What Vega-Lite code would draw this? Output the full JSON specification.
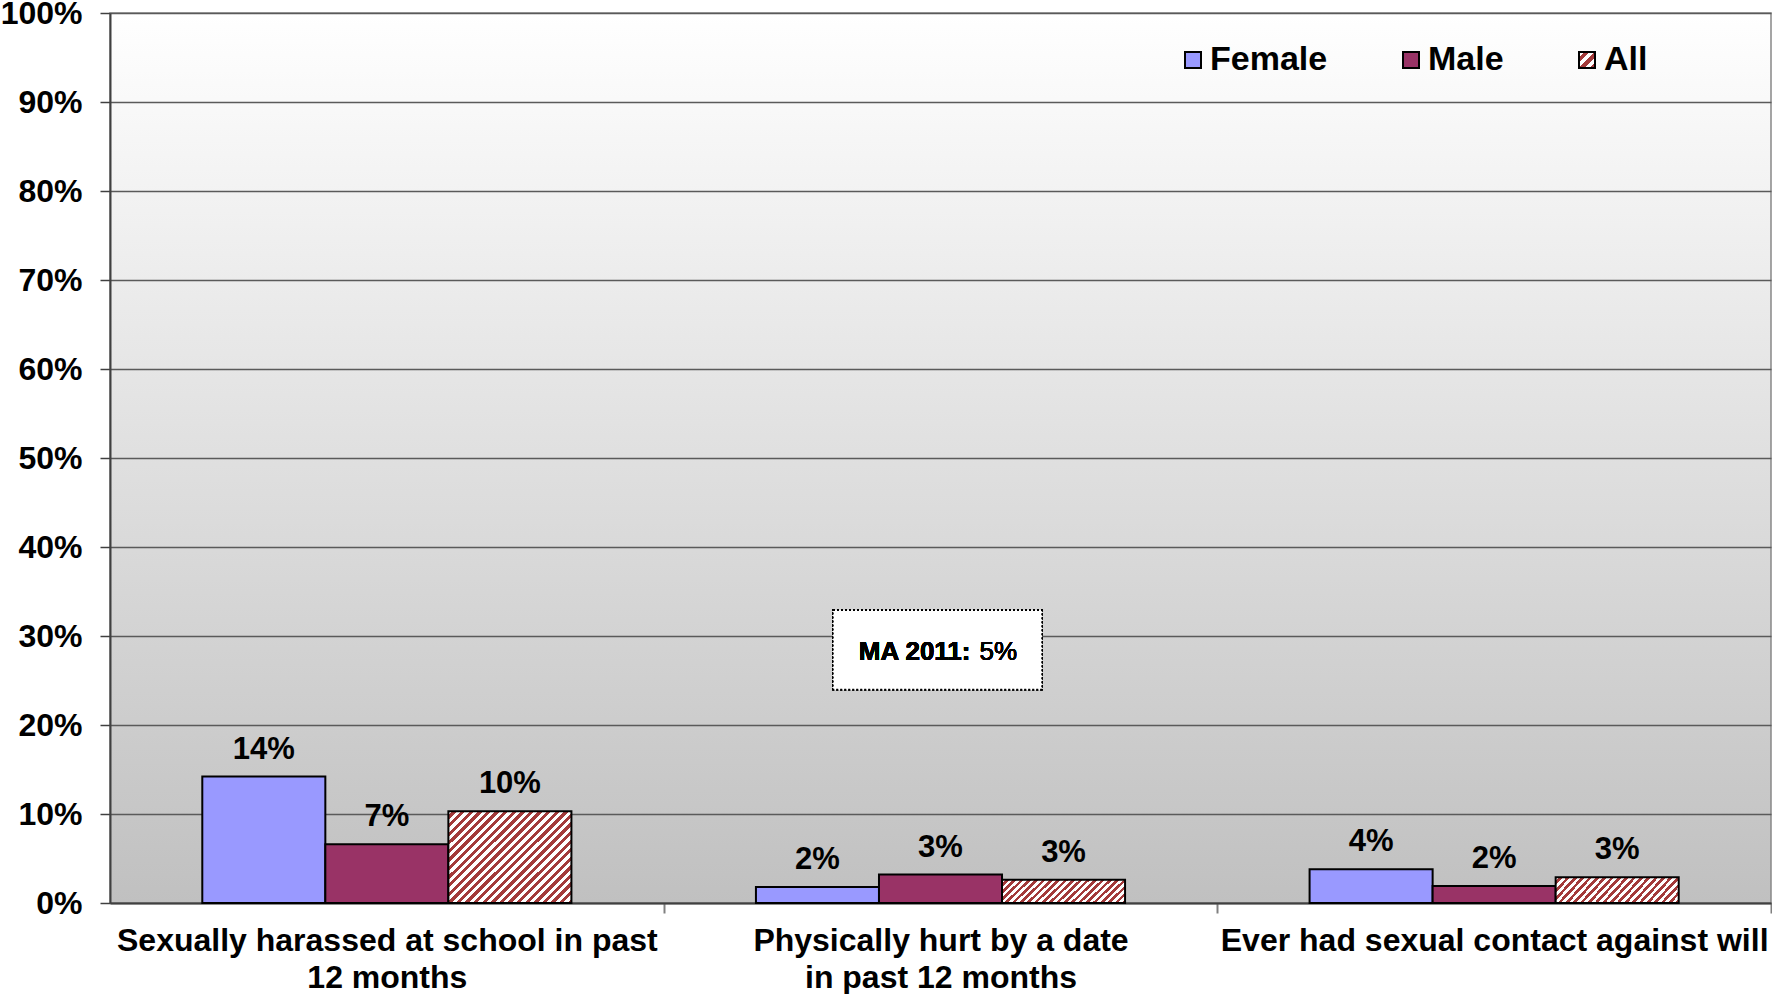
{
  "$schema": "https://vega.github.io/schema/vega-lite/v6.json",
  "width": 1661,
  "height": 890,
  "autosize": {"type": "none"},
  "padding": {"left": 110, "top": 13, "right": 1, "bottom": 91},
  "background": "#ffffff",
  "data": {
    "values": [
      {"category": "Sexually harassed at school in past 12 months", "group": "Female", "value": 0.142},
      {"category": "Sexually harassed at school in past 12 months", "group": "Male", "value": 0.066},
      {"category": "Sexually harassed at school in past 12 months", "group": "All", "value": 0.103},
      {"category": "Physically hurt by a date in past 12 months", "group": "Female", "value": 0.018},
      {"category": "Physically hurt by a date in past 12 months", "group": "Male", "value": 0.032},
      {"category": "Physically hurt by a date in past 12 months", "group": "All", "value": 0.026},
      {"category": "Ever had sexual contact against will", "group": "Female", "value": 0.038},
      {"category": "Ever had sexual contact against will", "group": "Male", "value": 0.019},
      {"category": "Ever had sexual contact against will", "group": "All", "value": 0.029}
    ]
  },
  "layer": [
    {
      "transform": [{"filter": "datum.group !== 'All'"}],
      "mark": {"type": "bar", "stroke": "#000000", "strokeWidth": 2},
      "encoding": {
        "x": {
          "field": "category", "type": "nominal",
          "scale": {"domain": ["Sexually harassed at school in past 12 months", "Physically hurt by a date in past 12 months", "Ever had sexual contact against will"], "paddingInner": 0.3333, "paddingOuter": 0.1667},
          "axis": {
            "title": null,
            "labelExpr": "datum.value == 'Sexually harassed at school in past 12 months' ? ['Sexually harassed at school in past', '12 months'] : datum.value == 'Physically hurt by a date in past 12 months' ? ['Physically hurt by a date', 'in past 12 months'] : datum.value",
            "labelFont": "Liberation Sans", "labelFontSize": 32, "labelFontWeight": "bold", "labelColor": "#000000",
            "labelLimit": 800, "labelOverlap": false, "labelBound": false, "labelPadding": 12, "labelLineHeight": 37, "labelAngle": 0,
            "tickOffset": 276.83, "labelOffset": -276.83, "tickSize": 10, "tickColor": "#808080", "tickWidth": 2,
            "domainColor": "#404040", "domainWidth": 2, "grid": false
          }
        },
        "xOffset": {"field": "group", "type": "nominal", "scale": {"domain": ["Female", "Male", "All"], "paddingInner": 0, "paddingOuter": 0}},
        "y": {
          "field": "value", "type": "quantitative",
          "scale": {"domain": [0, 1]},
          "axis": {
            "title": null, "values": [0, 0.1, 0.2, 0.3, 0.4, 0.5, 0.6, 0.7, 0.8, 0.9, 1], "format": ".0%",
            "labelFont": "Liberation Sans", "labelFontSize": 32, "labelFontWeight": "bold", "labelColor": "#000000",
            "labelPadding": 18, "tickSize": 10, "tickColor": "#404040", "tickWidth": 1.5,
            "domainColor": "#404040", "domainWidth": 2,
            "grid": true, "gridColor": "#5a5a5a", "gridWidth": 1.5
          }
        },
        "color": {
          "field": "group", "type": "nominal",
          "scale": {"domain": ["Female", "Male", "All"], "range": ["#9999ff", "#993366", {"expr": "{gradient: 'linear', x1: 0, y1: 0, x2: 1, y2: 1, stops: [{offset: 0, color: '#ffffff'}, {offset: 0.1667, color: '#ffffff'}, {offset: 0.1667, color: '#a33a3a'}, {offset: 0.3333, color: '#a33a3a'}, {offset: 0.3333, color: '#ffffff'}, {offset: 0.5, color: '#ffffff'}, {offset: 0.5, color: '#a33a3a'}, {offset: 0.6667, color: '#a33a3a'}, {offset: 0.6667, color: '#ffffff'}, {offset: 0.8333, color: '#ffffff'}, {offset: 0.8333, color: '#a33a3a'}, {offset: 1, color: '#a33a3a'}]}"}]},
          "legend": {
            "orient": "none", "legendX": 1066, "legendY": 30, "direction": "horizontal", "columns": 3, "title": null,
            "symbolType": "square", "symbolSize": 256, "symbolStrokeColor": "#000000", "symbolStrokeWidth": 2, "symbolOpacity": 1,
            "labelFont": "Liberation Sans", "labelFontSize": 34, "labelFontWeight": "bold", "labelColor": "#000000",
            "labelOffset": 0, "columnPadding": 66, "padding": 0
          }
        }
      }
    },
    {
      "transform": [{"filter": "datum.group === 'All' && datum.category === 'Sexually harassed at school in past 12 months'"}],
      "mark": {
        "type": "bar", "stroke": "#000000", "strokeWidth": 2,
        "fill": {"gradient": "linear", "x1": 0, "y1": 0, "x2": 1.121, "y2": 0.838, "stops": [
          {"offset": 0, "color": "#ffffff"}, {"offset": 0.02, "color": "#ffffff"},
          {"offset": 0.02, "color": "#a33a3a"}, {"offset": 0.04, "color": "#a33a3a"},
          {"offset": 0.04, "color": "#ffffff"}, {"offset": 0.06, "color": "#ffffff"},
          {"offset": 0.06, "color": "#a33a3a"}, {"offset": 0.08, "color": "#a33a3a"},
          {"offset": 0.08, "color": "#ffffff"}, {"offset": 0.10, "color": "#ffffff"},
          {"offset": 0.10, "color": "#a33a3a"}, {"offset": 0.12, "color": "#a33a3a"},
          {"offset": 0.12, "color": "#ffffff"}, {"offset": 0.14, "color": "#ffffff"},
          {"offset": 0.14, "color": "#a33a3a"}, {"offset": 0.16, "color": "#a33a3a"},
          {"offset": 0.16, "color": "#ffffff"}, {"offset": 0.18, "color": "#ffffff"},
          {"offset": 0.18, "color": "#a33a3a"}, {"offset": 0.20, "color": "#a33a3a"},
          {"offset": 0.20, "color": "#ffffff"}, {"offset": 0.22, "color": "#ffffff"},
          {"offset": 0.22, "color": "#a33a3a"}, {"offset": 0.24, "color": "#a33a3a"},
          {"offset": 0.24, "color": "#ffffff"}, {"offset": 0.26, "color": "#ffffff"},
          {"offset": 0.26, "color": "#a33a3a"}, {"offset": 0.28, "color": "#a33a3a"},
          {"offset": 0.28, "color": "#ffffff"}, {"offset": 0.30, "color": "#ffffff"},
          {"offset": 0.30, "color": "#a33a3a"}, {"offset": 0.32, "color": "#a33a3a"},
          {"offset": 0.32, "color": "#ffffff"}, {"offset": 0.34, "color": "#ffffff"},
          {"offset": 0.34, "color": "#a33a3a"}, {"offset": 0.36, "color": "#a33a3a"},
          {"offset": 0.36, "color": "#ffffff"}, {"offset": 0.38, "color": "#ffffff"},
          {"offset": 0.38, "color": "#a33a3a"}, {"offset": 0.40, "color": "#a33a3a"},
          {"offset": 0.40, "color": "#ffffff"}, {"offset": 0.42, "color": "#ffffff"},
          {"offset": 0.42, "color": "#a33a3a"}, {"offset": 0.44, "color": "#a33a3a"},
          {"offset": 0.44, "color": "#ffffff"}, {"offset": 0.46, "color": "#ffffff"},
          {"offset": 0.46, "color": "#a33a3a"}, {"offset": 0.48, "color": "#a33a3a"},
          {"offset": 0.48, "color": "#ffffff"}, {"offset": 0.50, "color": "#ffffff"},
          {"offset": 0.50, "color": "#a33a3a"}, {"offset": 0.52, "color": "#a33a3a"},
          {"offset": 0.52, "color": "#ffffff"}, {"offset": 0.54, "color": "#ffffff"},
          {"offset": 0.54, "color": "#a33a3a"}, {"offset": 0.56, "color": "#a33a3a"},
          {"offset": 0.56, "color": "#ffffff"}, {"offset": 0.58, "color": "#ffffff"},
          {"offset": 0.58, "color": "#a33a3a"}, {"offset": 0.60, "color": "#a33a3a"},
          {"offset": 0.60, "color": "#ffffff"}, {"offset": 0.62, "color": "#ffffff"},
          {"offset": 0.62, "color": "#a33a3a"}, {"offset": 0.64, "color": "#a33a3a"},
          {"offset": 0.64, "color": "#ffffff"}, {"offset": 0.66, "color": "#ffffff"},
          {"offset": 0.66, "color": "#a33a3a"}, {"offset": 0.68, "color": "#a33a3a"},
          {"offset": 0.68, "color": "#ffffff"}, {"offset": 0.70, "color": "#ffffff"},
          {"offset": 0.70, "color": "#a33a3a"}, {"offset": 0.72, "color": "#a33a3a"},
          {"offset": 0.72, "color": "#ffffff"}, {"offset": 0.74, "color": "#ffffff"},
          {"offset": 0.74, "color": "#a33a3a"}, {"offset": 0.76, "color": "#a33a3a"},
          {"offset": 0.76, "color": "#ffffff"}, {"offset": 0.78, "color": "#ffffff"},
          {"offset": 0.78, "color": "#a33a3a"}, {"offset": 0.80, "color": "#a33a3a"},
          {"offset": 0.80, "color": "#ffffff"}, {"offset": 0.82, "color": "#ffffff"},
          {"offset": 0.82, "color": "#a33a3a"}, {"offset": 0.84, "color": "#a33a3a"},
          {"offset": 0.84, "color": "#ffffff"}, {"offset": 0.86, "color": "#ffffff"},
          {"offset": 0.86, "color": "#a33a3a"}, {"offset": 0.88, "color": "#a33a3a"},
          {"offset": 0.88, "color": "#ffffff"}, {"offset": 0.90, "color": "#ffffff"},
          {"offset": 0.90, "color": "#a33a3a"}, {"offset": 0.92, "color": "#a33a3a"},
          {"offset": 0.92, "color": "#ffffff"}, {"offset": 0.94, "color": "#ffffff"},
          {"offset": 0.94, "color": "#a33a3a"}, {"offset": 0.96, "color": "#a33a3a"},
          {"offset": 0.96, "color": "#ffffff"}, {"offset": 0.98, "color": "#ffffff"},
          {"offset": 0.98, "color": "#a33a3a"}, {"offset": 1, "color": "#a33a3a"}
        ]}
      },
      "encoding": {
        "x": {"field": "category", "type": "nominal"},
        "xOffset": {"field": "group", "type": "nominal"},
        "y": {"field": "value", "type": "quantitative"}
      }
    },
    {
      "transform": [{"filter": "datum.group === 'All' && datum.category !== 'Sexually harassed at school in past 12 months'"}],
      "mark": {
        "type": "bar", "stroke": "#000000", "strokeWidth": 2,
        "fill": {"gradient": "linear", "x1": 0, "y1": 0, "x2": 1.151, "y2": 0.225, "stops": [
          {"offset": 0, "color": "#ffffff"}, {"offset": 0.025, "color": "#ffffff"},
          {"offset": 0.025, "color": "#a33a3a"}, {"offset": 0.05, "color": "#a33a3a"},
          {"offset": 0.05, "color": "#ffffff"}, {"offset": 0.075, "color": "#ffffff"},
          {"offset": 0.075, "color": "#a33a3a"}, {"offset": 0.1, "color": "#a33a3a"},
          {"offset": 0.1, "color": "#ffffff"}, {"offset": 0.125, "color": "#ffffff"},
          {"offset": 0.125, "color": "#a33a3a"}, {"offset": 0.15, "color": "#a33a3a"},
          {"offset": 0.15, "color": "#ffffff"}, {"offset": 0.175, "color": "#ffffff"},
          {"offset": 0.175, "color": "#a33a3a"}, {"offset": 0.2, "color": "#a33a3a"},
          {"offset": 0.2, "color": "#ffffff"}, {"offset": 0.225, "color": "#ffffff"},
          {"offset": 0.225, "color": "#a33a3a"}, {"offset": 0.25, "color": "#a33a3a"},
          {"offset": 0.25, "color": "#ffffff"}, {"offset": 0.275, "color": "#ffffff"},
          {"offset": 0.275, "color": "#a33a3a"}, {"offset": 0.3, "color": "#a33a3a"},
          {"offset": 0.3, "color": "#ffffff"}, {"offset": 0.325, "color": "#ffffff"},
          {"offset": 0.325, "color": "#a33a3a"}, {"offset": 0.35, "color": "#a33a3a"},
          {"offset": 0.35, "color": "#ffffff"}, {"offset": 0.375, "color": "#ffffff"},
          {"offset": 0.375, "color": "#a33a3a"}, {"offset": 0.4, "color": "#a33a3a"},
          {"offset": 0.4, "color": "#ffffff"}, {"offset": 0.425, "color": "#ffffff"},
          {"offset": 0.425, "color": "#a33a3a"}, {"offset": 0.45, "color": "#a33a3a"},
          {"offset": 0.45, "color": "#ffffff"}, {"offset": 0.475, "color": "#ffffff"},
          {"offset": 0.475, "color": "#a33a3a"}, {"offset": 0.5, "color": "#a33a3a"},
          {"offset": 0.5, "color": "#ffffff"}, {"offset": 0.525, "color": "#ffffff"},
          {"offset": 0.525, "color": "#a33a3a"}, {"offset": 0.55, "color": "#a33a3a"},
          {"offset": 0.55, "color": "#ffffff"}, {"offset": 0.575, "color": "#ffffff"},
          {"offset": 0.575, "color": "#a33a3a"}, {"offset": 0.6, "color": "#a33a3a"},
          {"offset": 0.6, "color": "#ffffff"}, {"offset": 0.625, "color": "#ffffff"},
          {"offset": 0.625, "color": "#a33a3a"}, {"offset": 0.65, "color": "#a33a3a"},
          {"offset": 0.65, "color": "#ffffff"}, {"offset": 0.675, "color": "#ffffff"},
          {"offset": 0.675, "color": "#a33a3a"}, {"offset": 0.7, "color": "#a33a3a"},
          {"offset": 0.7, "color": "#ffffff"}, {"offset": 0.725, "color": "#ffffff"},
          {"offset": 0.725, "color": "#a33a3a"}, {"offset": 0.75, "color": "#a33a3a"},
          {"offset": 0.75, "color": "#ffffff"}, {"offset": 0.775, "color": "#ffffff"},
          {"offset": 0.775, "color": "#a33a3a"}, {"offset": 0.8, "color": "#a33a3a"},
          {"offset": 0.8, "color": "#ffffff"}, {"offset": 0.825, "color": "#ffffff"},
          {"offset": 0.825, "color": "#a33a3a"}, {"offset": 0.85, "color": "#a33a3a"},
          {"offset": 0.85, "color": "#ffffff"}, {"offset": 0.875, "color": "#ffffff"},
          {"offset": 0.875, "color": "#a33a3a"}, {"offset": 0.9, "color": "#a33a3a"},
          {"offset": 0.9, "color": "#ffffff"}, {"offset": 0.925, "color": "#ffffff"},
          {"offset": 0.925, "color": "#a33a3a"}, {"offset": 0.95, "color": "#a33a3a"},
          {"offset": 0.95, "color": "#ffffff"}, {"offset": 0.975, "color": "#ffffff"},
          {"offset": 0.975, "color": "#a33a3a"}, {"offset": 1, "color": "#a33a3a"}
        ]}
      },
      "encoding": {
        "x": {"field": "category", "type": "nominal"},
        "xOffset": {"field": "group", "type": "nominal"},
        "y": {"field": "value", "type": "quantitative"}
      }
    },
    {
      "mark": {"type": "text", "baseline": "alphabetic", "dy": -18, "font": "Liberation Sans", "fontSize": 31, "fontWeight": "bold", "color": "#000000"},
      "encoding": {
        "x": {"field": "category", "type": "nominal"},
        "xOffset": {"field": "group", "type": "nominal"},
        "y": {"field": "value", "type": "quantitative"},
        "text": {"field": "value", "type": "quantitative", "format": ".0%"}
      }
    },
    {
      "mark": {"type": "bar", "width": 209, "xOffset": -3, "fill": "#ffffff", "stroke": "#000000", "strokeWidth": 1.5, "strokeDash": [2, 2]},
      "encoding": {
        "x": {"datum": "Physically hurt by a date in past 12 months", "type": "nominal"},
        "y": {"datum": 0.329, "type": "quantitative"},
        "y2": {"datum": 0.24}
      }
    },
    {
      "mark": {"type": "text", "align": "right", "baseline": "alphabetic", "dx": 30, "font": "Liberation Sans", "fontSize": 26, "fontWeight": "bold", "color": "#000000", "text": "MA 2011:"},
      "encoding": {
        "x": {"datum": "Physically hurt by a date in past 12 months", "type": "nominal"},
        "y": {"datum": 0.273, "type": "quantitative"}
      }
    },
    {
      "mark": {"type": "text", "align": "left", "baseline": "alphabetic", "dx": 39, "font": "Liberation Sans", "fontSize": 26, "fontWeight": "normal", "color": "#000000", "text": "5%"},
      "encoding": {
        "x": {"datum": "Physically hurt by a date in past 12 months", "type": "nominal"},
        "y": {"datum": 0.273, "type": "quantitative"}
      }
    }
  ],
  "config": {
    "view": {
      "stroke": "#888888", "strokeWidth": 1.5,
      "fill": {"gradient": "linear", "x1": 0, "y1": 0, "x2": 0, "y2": 1, "stops": [{"offset": 0, "color": "#ffffff"}, {"offset": 1, "color": "#c0c0c0"}]}
    }
  }
}
